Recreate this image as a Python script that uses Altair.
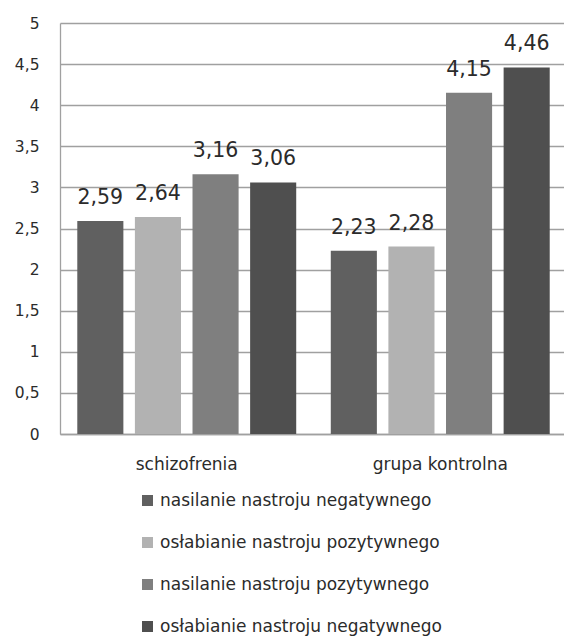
import altair as alt
import pandas as pd

groups = ["schizofrenia", "grupa kontrolna"]
series = [
    "nasilanie nastroju negatywnego",
    "osłabianie nastroju pozytywnego",
    "nasilanie nastroju pozytywnego",
    "osłabianie nastroju negatywnego",
]
schizofrenia_vals = [2.59, 2.64, 3.16, 3.06]
kontrolna_vals = [2.23, 2.28, 4.15, 4.46]
y_ticks = [0, 0.5, 1, 1.5, 2, 2.5, 3, 3.5, 4, 4.5, 5]
colors = ["#606060", "#b2b2b2", "#7f7f7f", "#4f4f4f"]

rows = []
for g, vals in zip(groups, [schizofrenia_vals, kontrolna_vals]):
    for s, v in zip(series, vals):
        rows.append({"grupa": g, "seria": s, "wartosc": v})
df = pd.DataFrame(rows)

FONT = "DejaVu Sans"
TEXT = "#2b2b2b"
GRID = "#a0a0a0"

x_enc = alt.X(
    "grupa:N",
    sort=groups,
    scale=alt.Scale(paddingInner=0, paddingOuter=0, range=[0, 507]),
    axis=alt.Axis(
        title=None, labelAngle=0, ticks=False, labelPadding=22,
        labelFontSize=17, labelColor=TEXT, labelFont=FONT,
        domainColor=GRID, domainWidth=1.3,
    ),
)
xoff_enc = alt.XOffset(
    "seria:N", sort=series,
    scale=alt.Scale(paddingInner=0.2, paddingOuter=0.3),
)
y_enc = alt.Y(
    "wartosc:Q",
    scale=alt.Scale(domain=[0, 5], nice=False),
    axis=alt.Axis(
        title=None, values=y_ticks, ticks=False, labelPadding=21,
        labelExpr="replace(toString(datum.value), '.', ',')",
        labelFontSize=15.5, labelColor=TEXT, labelFont=FONT,
        domainColor=GRID, domainWidth=1.3,
        gridColor=GRID, gridWidth=1.3,
    ),
)

bars = alt.Chart(df).mark_bar().encode(
    x=x_enc,
    xOffset=xoff_enc,
    y=y_enc,
    color=alt.Color(
        "seria:N", sort=series,
        scale=alt.Scale(domain=series, range=colors),
        legend=alt.Legend(
            title=None, orient="none", legendX=79, legendY=469,
            direction="vertical", symbolType="square", symbolSize=121,
            symbolStrokeWidth=0, labelFontSize=17, labelFont=FONT,
            labelColor=TEXT, labelOffset=4, rowPadding=24,
            labelLimit=400,
        ),
    ),
)

labels = alt.Chart(df).transform_calculate(
    etykieta="replace(format(datum.wartosc, '.2f'), '.', ',')"
).mark_text(
    baseline="alphabetic", dy=-17, fontSize=20.5, font=FONT, color=TEXT
).encode(
    x=alt.X("grupa:N", sort=groups),
    xOffset=alt.XOffset("seria:N", sort=series),
    y="wartosc:Q",
    text="etykieta:N",
)

chart = (
    alt.layer(bars, labels)
    .properties(
        width=504, height=411,
        autosize=alt.AutoSizeParams(type="none"),
        padding={"left": 60, "top": 23, "right": 0, "bottom": 202},
        background="white",
    )
    .configure_view(stroke=None)
)

chart.save("out.html", embed_options={"renderer": "svg", "actions": False})
